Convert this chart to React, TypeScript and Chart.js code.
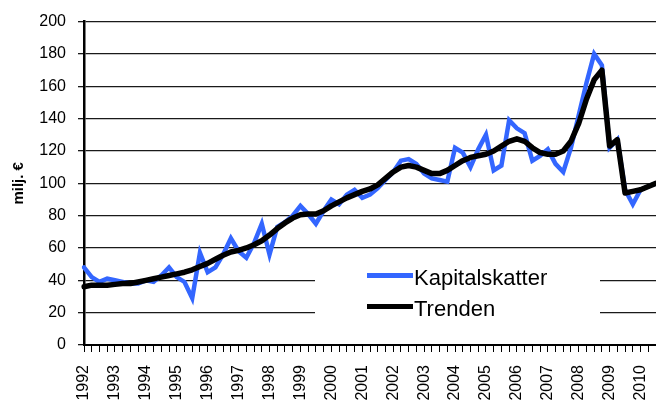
import React, { useEffect, useRef } from 'react';
import { Chart, registerables } from 'chart.js';

Chart.register(...registerables);

// ---- data ----
const years = [1992, 1993, 1994, 1995, 1996, 1997, 1998, 1999, 2000, 2001, 2002, 2003, 2004, 2005, 2006, 2007, 2008, 2009, 2010];
const quartersPerYear = 4;

const kapitalskatter = [
  48, 42, 39, 41,
  40, 39, 38, 38,
  40, 39, 43, 48,
  42, 39, 29, 57,
  45, 48, 56, 66,
  58, 54, 63, 75,
  56, 73, 76, 80,
  86, 81, 75, 83,
  90, 87, 93, 96,
  91, 93, 97, 102,
  107, 114, 115, 112,
  106, 103, 102, 101,
  122, 119, 110, 121,
  130, 108, 111, 139,
  134, 131, 114, 117,
  121, 112, 107, 122,
  142, 162, 180, 173,
  122, 127, 96, 87,
  96, 98, 100,
];

const trenden = [
  36, 37, 37, 37,
  37.5, 38, 38, 39,
  40, 41, 42, 43,
  44, 45, 46.5, 48.5,
  50.5, 53, 55.5, 57.5,
  58.5, 60, 62, 64.5,
  68, 72, 75.5, 78.5,
  80.5, 81, 81, 83,
  86, 88.5, 91, 93,
  95, 96.5, 99, 103,
  107, 110, 111, 110,
  108, 106, 106, 108,
  111, 114, 116, 117,
  118, 120, 123, 126,
  127.5, 126, 122, 119,
  118, 118, 120, 126,
  137, 152, 164, 170,
  123, 127, 94, 95,
  96, 98, 100,
];

const seriesNames = ['Kapitalskatter', 'Trenden'];
const seriesColors = ['#3366ff', '#000000'];
const yAxisTitle = 'milj. €';
const yMin = 0;
const yMax = 200;
const yStep = 20;

const FONT = '"Liberation Sans", Arial, sans-serif';

const quarterLabels = kapitalskatter.map((_, i) =>
  i % quartersPerYear === 0 ? String(years[i / quartersPerYear]) : ''
);

const boxLegend = {
  id: 'boxLegend',
  beforeDatasetsDraw(chart: any) {
    const { ctx, chartArea } = chart;
    const left = chartArea.left + 231;
    const top = chartArea.top + 239;
    ctx.save();
    ctx.fillStyle = '#ffffff';
    ctx.fillRect(left, top, 285, 73);
    chart.data.datasets.forEach((ds: any, k: number) => {
      const y = top + 15 + k * 31;
      ctx.strokeStyle = ds.borderColor;
      ctx.lineWidth = 5;
      ctx.lineCap = 'butt';
      ctx.beginPath();
      ctx.moveTo(left + 52, y);
      ctx.lineTo(left + 98, y);
      ctx.stroke();
      ctx.fillStyle = '#000';
      ctx.font = '22px ' + FONT;
      ctx.textBaseline = 'alphabetic';
      ctx.textAlign = 'left';
      ctx.fillText(ds.label, left + 99, y + 9.5);
    });
    ctx.restore();
  },
};

export default function App() {
  const ref = useRef<HTMLCanvasElement | null>(null);

  useEffect(() => {
    if (!ref.current) return;
    const chart = new Chart(ref.current, {
      type: 'line',
      data: {
        labels: quarterLabels,
        datasets: [
          {
            label: seriesNames[0],
            data: kapitalskatter,
            borderColor: seriesColors[0],
            backgroundColor: seriesColors[0],
            borderWidth: 4.5,
            pointRadius: 0,
            tension: 0,
            order: 1,
            borderJoinStyle: 'miter',
            borderCapStyle: 'round',
          },
          {
            label: seriesNames[1],
            data: trenden,
            borderColor: seriesColors[1],
            backgroundColor: seriesColors[1],
            borderWidth: 5.5,
            pointRadius: 0,
            tension: 0,
            order: 0,
            borderJoinStyle: 'round',
            borderCapStyle: 'round',
          },
        ],
      },
      options: {
        responsive: false,
        animation: false,
        layout: { padding: { top: 18.5, right: 0, bottom: 0, left: 0 } },
        plugins: {
          legend: { display: false },
          tooltip: { enabled: false },
        },
        scales: {
          x: {
            type: 'category',
            offset: false,
            grid: {
              drawOnChartArea: false,
              drawTicks: true,
              tickLength: 7,
              color: '#000',
              lineWidth: 1,
            },
            border: { color: '#000', width: 2 },
            ticks: {
              autoSkip: false,
              minRotation: 90,
              maxRotation: 90,
              padding: 13,
              color: '#000',
              font: { family: FONT, size: 16 },
            },
            afterFit: (s: any) => {
              s.height = 58;
              s.paddingLeft = 0;
              s.paddingRight = 0;
            },
          },
          y: {
            min: yMin,
            max: yMax,
            ticks: {
              stepSize: yStep,
              padding: 12,
              color: '#000',
              font: { family: FONT, size: 16 },
            },
            grid: {
              color: '#1a1a1a',
              lineWidth: 1.3,
              tickLength: 6,
            },
            border: { color: '#000', width: 2.5 },
            title: {
              display: true,
              text: yAxisTitle,
              color: '#000',
              font: { family: FONT, size: 15, weight: 'bold' },
              padding: { top: 10, bottom: 0 },
            },
            afterFit: (s: any) => {
              s.width = 84;
            },
          },
        },
      },
      plugins: [boxLegend],
    });
    return () => chart.destroy();
  }, []);

  return (
    <div style={{ position: 'fixed', left: 0, top: 0, width: 656, height: 403, background: '#fff' }}>
      <canvas ref={ref} width={656} height={403} style={{ display: 'block' }} />
    </div>
  );
}
